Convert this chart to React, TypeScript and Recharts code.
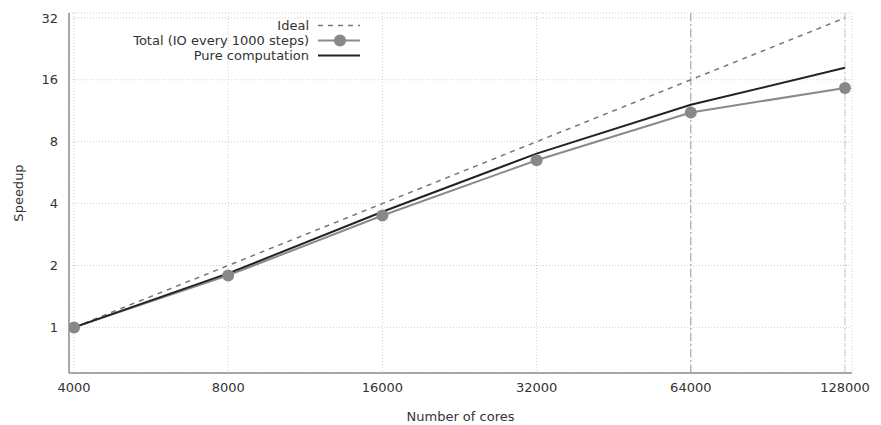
import {
  LineChart,
  Line,
  XAxis,
  YAxis,
  CartesianGrid,
  Legend,
  ReferenceLine,
} from "recharts";

const cores = [4000, 8000, 16000, 32000, 64000, 128000];
const idealSpeedup = [1, 2, 4, 8, 16, 32];
const totalSpeedup = [1, 1.79, 3.5, 6.5, 11.1, 14.6];
const pureSpeedup = [1, 1.83, 3.65, 7.0, 12.1, 18.3];

const xTicks = [4000, 8000, 16000, 32000, 64000, 128000];
const yTicks = [1, 2, 4, 8, 16, 32];

const data = cores.map((c, i) => ({
  cores: c,
  ideal: idealSpeedup[i],
  total: totalSpeedup[i],
  pure: pureSpeedup[i],
}));

const FONT = "'DejaVu Sans', sans-serif";
const TEXT = "#333";
const FRAME = "#8c8c8c";

const legendRows = [
  { label: "Ideal", kind: "ideal" },
  { label: "Total (IO every 1000 steps)", kind: "total" },
  { label: "Pure computation", kind: "pure" },
];

function LegendBox() {
  return (
    <div style={{ fontFamily: FONT, fontSize: 13, color: TEXT }}>
      {legendRows.map((r) => (
        <div
          key={r.kind}
          style={{
            display: "flex",
            justifyContent: "flex-end",
            alignItems: "center",
            height: 15,
          }}
        >
          <span style={{ lineHeight: "15px" }}>{r.label}</span>
          <svg width={42} height={15} style={{ marginLeft: 9 }}>
            {r.kind === "ideal" && (
              <line x1={0} y1={7.5} x2={42} y2={7.5} stroke="#777" strokeWidth={1.5} strokeDasharray="5 5" />
            )}
            {r.kind === "total" && (
              <>
                <line x1={0} y1={7.5} x2={42} y2={7.5} stroke="#8a8a8a" strokeWidth={2} />
                <circle cx={22} cy={7.5} r={6} fill="#888" />
              </>
            )}
            {r.kind === "pure" && (
              <line x1={0} y1={7.5} x2={42} y2={7.5} stroke="#222" strokeWidth={2} />
            )}
          </svg>
        </div>
      ))}
    </div>
  );
}

export default function App() {
  return (
    <div style={{ fontFamily: FONT }}>
      <LineChart
        width={873}
        height={417}
        data={data}
        margin={{ top: 5, right: 29, left: 0, bottom: 0 }}
      >
        <CartesianGrid stroke="#cfcfcf" strokeDasharray="1 2" />
        <XAxis
          dataKey="cores"
          type="number"
          scale="log"
          domain={[3911, 132100]}
          allowDataOverflow
          ticks={xTicks}
          height={52}
          tickLine={false}
          tickSize={0}
          tickMargin={10}
          stroke={FRAME}
          strokeWidth={1.5}
          tick={{ fill: TEXT, fontSize: 13, fontFamily: FONT }}
          label={{
            value: "Number of cores",
            position: "insideBottom",
            offset: 4,
            fill: TEXT,
            fontSize: 13,
            fontFamily: FONT,
          }}
        />
        <XAxis
          xAxisId="top"
          orientation="top"
          dataKey="cores"
          type="number"
          scale="log"
          domain={[3911, 132100]}
          allowDataOverflow
          height={0}
          tick={false}
          tickLine={false}
          stroke={FRAME}
          strokeWidth={1.5}
        />
        <YAxis
          type="number"
          scale="log"
          domain={[0.6, 33.8]}
          allowDataOverflow
          ticks={yTicks}
          width={61}
          tickLine={false}
          tickSize={0}
          tickMargin={11}
          stroke={FRAME}
          strokeWidth={1.5}
          tick={{ fill: TEXT, fontSize: 13, fontFamily: FONT }}
          label={{
            content: (props: any) => {
              const vb = props.viewBox;
              const cx = 10;
              const cy = vb.y + vb.height / 2;
              return (
                <text
                  x={cx}
                  y={cy}
                  transform={`rotate(-90 ${cx} ${cy})`}
                  textAnchor="middle"
                  dominantBaseline="central"
                  fill={TEXT}
                  fontSize={13}
                  fontFamily={FONT}
                >
                  Speedup
                </text>
              );
            },
          }}
        />
        <YAxis
          yAxisId="right"
          orientation="right"
          type="number"
          scale="log"
          domain={[0.6, 33.8]}
          allowDataOverflow
          width={0}
          tick={false}
          tickLine={false}
          stroke={FRAME}
          strokeWidth={1.5}
        />
        <ReferenceLine x={64000} stroke="#999" strokeDasharray="8 3 2 3" />
        <ReferenceLine x={128000} stroke="#c8c8c8" strokeDasharray="8 3 2 3" />
        <Legend
          layout="horizontal"
          verticalAlign="middle"
          align="center"
          wrapperStyle={{ left: 0, top: 10, width: 352 }}
          content={() => <LegendBox />}
        />
        <Line
          dataKey="ideal"
          stroke="#777"
          strokeWidth={1.5}
          strokeDasharray="5 5"
          dot={false}
          isAnimationActive={false}
        />
        <Line
          dataKey="total"
          stroke="#8a8a8a"
          strokeWidth={2}
          dot={{ r: 6, fill: "#888", stroke: "none" }}
          isAnimationActive={false}
        />
        <Line
          dataKey="pure"
          stroke="#222"
          strokeWidth={2}
          dot={false}
          isAnimationActive={false}
        />
      </LineChart>
    </div>
  );
}
